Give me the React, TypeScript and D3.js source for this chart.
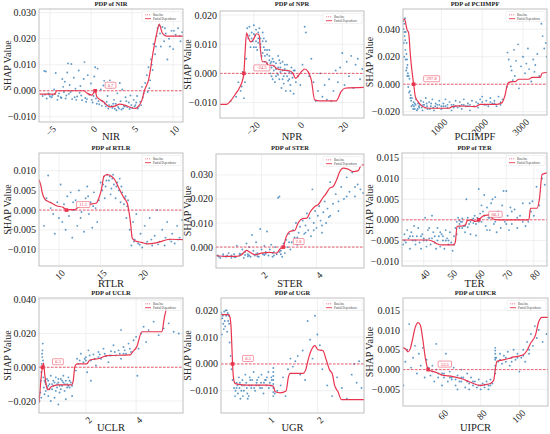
import React from 'react';
import * as d3 from 'd3';

type Pt = [number, number];

// SHAP values below are in thousandths (10 => 0.010)
const nirLine: Pt[] = [
  [-6.3, -1.3], [-4.4, -1.3], [-4.2, 0], [-0.9, 0], [-0.45, -1], [0.1, -1.7], [0.5, 0], [0.7, -2.3],
  [1.5, -4.2], [2.3, -6.2], [2.9, -5.9], [3.5, -5.1], [4.1, -5.5], [4.8, -6.4], [5.4, -6.8], [5.8, -5.9],
  [6.2, -3.6], [6.5, 0], [7.0, 4.1], [7.6, 15.6], [8.0, 22], [8.3, 25.6], [8.7, 22], [9.2, 21], [11.2, 21],
];
const nirPts: Pt[] = [
  [-5.9, -2], [-5.7, 7.6], [-5.5, 7.4], [-5.4, -3], [-5.1, -1.5], [-4.8, -2.5], [-4.5, 0.5], [-4.3, 6.8],
  [-4.1, -3.5], [-3.9, -1], [-3.6, -2.8], [-3.4, 1.5], [-3.2, 3.5], [-3.0, -1.8], [-2.8, 10.5], [-2.6, 2.2],
  [-2.4, 10.3], [-2.3, -3.2], [-2.1, 5], [-1.9, 0.8], [-1.7, -2.2], [-1.5, 7.8], [-1.3, 1.8], [-1.1, -3.6],
  [-0.9, 4.5], [-0.8, 11], [-0.6, -4.2], [-0.4, 6], [-0.2, -1.5], [0, 2.8], [0.2, -4.5], [0.4, 5.5],
  [0.6, -3], [0.8, 8.5], [1.0, -5.2], [1.2, 0.5], [1.4, -4], [1.6, 3.8], [1.8, -6], [2.0, -2], [2.2, -5.5],
  [2.4, 1.2], [2.6, -6.5], [2.8, -3.5], [3.0, -5], [3.2, -1], [3.4, -6.8], [3.6, -4], [3.8, 0.5], [4.0, -5.8],
  [4.2, -2.5], [4.4, -6.2], [4.6, -4.5], [4.8, -1.8], [5.0, -6.5], [5.2, -3.5], [5.4, -5.5], [5.6, -2],
  [5.8, -6], [6.0, -4.2], [6.2, 1.5], [6.4, -1], [6.6, 3], [6.8, 6], [6.9, -0.5], [7.0, 9], [7.2, 4],
  [7.3, 12], [7.5, 8], [7.6, 18], [7.8, 14], [8.0, 21], [8.1, 24], [8.3, 25], [8.5, 17], [8.7, 24.5],
  [8.9, 19], [9.1, 22], [9.3, 12], [9.5, 20], [9.8, 23], [10.0, 16], [10.3, 21.5], [10.6, 24], [10.9, 19],
  [11.1, 22.5], [-5.2, -1], [-4.7, -1.8], [-4, -2], [-3.3, -0.5], [-2.7, -1.2], [-2, -2.5], [-1.4, -0.8],
  [-0.7, -2.8], [0.1, -3.5], [0.9, -4], [1.7, -5], [2.5, -5.8], [3.3, -6.2], [4.1, -6], [4.9, -5.5],
  [5.7, -6.8], [3.7, -7.2], [2.9, -6.9], [-5.6, -1.5], [-5, -2.2], [-4.4, -1.2], [-3.7, -2.5], [-3.1, -3],
  [-2.5, -0.5], [-1.8, -3.5], [-1.2, -1.8], [-0.5, -3.2], [0.3, -2], [0.7, -5], [1.3, -5.8], [1.9, -4.2],
  [2.1, -6.8], [2.7, -5], [3.1, -7.5], [3.9, -6.8], [4.3, -4], [4.7, -7], [5.3, -6], [5.5, -4.5],
  [6.1, -5.5], [6.3, -2.5], [7.1, 1], [7.4, 10], [7.9, 17], [8.4, 22], [9.0, 24], [9.6, 17], [10.1, 23],
  [10.8, 21], [-3.5, 4.5], [-2.9, 7], [0.5, 9], [1.5, 2], [2.3, 4], [3.5, 3],
];

const nprLine: Pt[] = [
  [-35.3, -10.6], [-32.3, -10.6], [-30.8, -9.7], [-28.6, -7.4], [-26.6, -5.1], [-25.1, -2.3], [-24.5, 0],
  [-23.9, 8], [-23.3, 13.9], [-22.6, 12.5], [-21.4, 10.8], [-20, 11.9], [-18.8, 13.6], [-17.6, 13.1],
  [-17, 8], [-16.1, 4], [-14.6, 4], [-13.5, 2.8], [-11.3, 2.8], [-9.8, 1.7], [-6.8, 1.1], [-3.8, 0.9],
  [-2.3, 0], [-1.1, -1.7], [0, -0.9], [1.5, 0.6], [3, 1.5], [4.5, 0.6], [6, -2.3], [7.5, -9.1], [9.8, -9.4],
  [17.3, -9.4], [19.5, -6.2], [21.1, -5.1], [29.8, -4.8],
];
const nprPts: Pt[] = [
  [-30.5, -9.5], [-28, -8], [-27, -3], [-26, -6], [-25.5, -4.5], [-25, 0.5], [-24.5, -8.5], [-24, -3],
  [-23.5, 5], [-23, 15.5], [-22.5, 12], [-22, 16], [-21.5, 9], [-21, 14], [-20.5, 11], [-20, 16.5],
  [-19.5, 13], [-19, 15], [-18.5, 8], [-18, 12], [-17.5, 15.5], [-17, 10], [-16.5, 6], [-16, 14],
  [-15.5, 9], [-15, 4], [-14.5, 11], [-14, 6.5], [-13.5, 2], [-13, 8], [-12.5, 3.5], [-12, -1], [-11.5, 5],
  [-11, 1], [-10.5, -3], [-10, 3.5], [-9.5, 0], [-9, 6], [-8.5, -2], [-8, 2], [-7.5, -5], [-7, 4],
  [-6.5, -1], [-6, 1.5], [-5.5, -6], [-5, 3], [-4.5, -2.5], [-4, 0.5], [-3.5, -4], [-3, 2], [-2.5, -1.5],
  [-2, -7], [-1.5, 1], [-1, -3], [-20, 9], [-18, 10.5], [-16, 7], [-14, 3.5], [-12, 2], [-10, 1.5],
  [-8, 0.5], [-6, 0], [-13, 4.5], [-11, 2.5], [-9, -0.5], [-7, 1], [-5, -1], [-15, 6], [-17, 12], [-19, 11],
  [0, -1], [1, -4], [2, 3], [3, 16], [3.5, 14], [5, -1], [6, 5], [7, -3], [8, -9.5], [9, -6], [10, 0],
  [11, -8], [12, -4], [13, -9], [14, -2], [15, -9.5], [16, -6], [17, 1], [18, -3], [19, 2], [20, 7],
  [21, -4], [22, 4], [23, -1], [24, 6], [25, -5], [26, 3], [27, 5], [28, -2], [29, 1.5],
  [-22, 13], [-21, 12], [-20, 13.5], [-19, 9], [-18, 14], [-17, 9], [-16, 11], [-15, 8], [-14, 8],
  [-13, 6], [-12, 4], [-11, 4], [-10, -1], [-9, 2], [-8, 3.5], [-7, -2], [-6, 3], [-5, 1], [-4, -2],
  [-3, 0], [-2, 1], [-12.5, 0], [-8.5, 4.5], [-6.5, -3.5], [-3.5, -6], [-15.5, 12], [-11.5, -2],
];

const pciLine: Pt[] = [
  [61, 47.4], [102, 47], [159, 39.7], [200, 37.2], [241, 21.4], [282, 9.2], [322, 0], [363, -9],
  [428, -12.7], [526, -15.8], [690, -17.5], [1180, -17.5], [1262, -16.3], [1425, -15.8], [1833, -16.3],
  [1955, -14.6], [2363, -14.6], [2486, -13.4], [2550, -9], [2632, 0.7], [2730, 1.9], [2812, 1.9],
  [2894, 3.6], [3139, 3.6], [3220, 4.9], [3424, 4.9], [3465, 8], [3587, 8.5],
];
const pciPts: Pt[] = [
  [70, 46], [90, 44], [110, 48], [80, 30], [100, 35], [120, 25], [90, 20], [130, 38], [150, 30], [160, 18],
  [140, 10], [170, 14], [180, 8], [200, 6], [190, -2], [220, 4], [230, -5], [250, -8], [260, -12],
  [280, -10], [300, -15], [320, -13], [350, -18], [380, -11], [400, -19], [430, -14], [460, -17],
  [500, -12], [540, -19], [580, -15], [620, -10], [660, -18], [700, -13], [740, -16], [780, -11],
  [820, -19], [860, -14], [900, -17], [950, -12], [1000, -18], [1050, -14], [1100, -11], [1150, -17],
  [1200, -13], [1250, -19], [1300, -15], [1350, -12], [1400, -17], [1450, -13], [1500, -18], [1550, -11],
  [1600, -16], [1650, -14], [1700, -19], [1750, -12], [1800, -16], [1850, -13], [1900, -17], [1950, -11],
  [2000, -9], [2050, -15], [2100, -12], [2150, -16], [2200, -10], [2250, -14], [2300, -12], [2350, -16],
  [2400, -9], [2450, -13], [2500, -11], [350, -14], [450, -16], [550, -15], [650, -16], [750, -14],
  [850, -16], [950, -15], [1050, -16], [1150, -15], [1250, -15], [1350, -16], [1450, -16], [1550, -15],
  [1650, -16], [600, -17], [800, -17], [1000, -16], [2600, -2], [2620, 23], [2650, 18], [2700, 13],
  [2720, 10], [2750, 3], [2780, 25], [2800, 6], [2830, 17], [2880, 29], [2900, -3], [2950, 13],
  [3000, 20], [3050, 8], [3080, 15], [3120, 26], [3150, 11], [3200, 2], [3250, 18], [3280, 9], [3300, 14],
  [3350, 22], [3400, 6], [3450, 44], [3480, 35], [3520, 26], [3560, 30], [3580, 20],
  [75, 40], [95, 38], [115, 32], [125, 18], [145, 22], [155, 12], [165, 6], [210, -6], [240, -10],
  [270, -16], [310, -18], [330, -16], [370, -15], [420, -18], [480, -15], [520, -17], [560, -13],
  [640, -14], [720, -18], [900, -15], [1100, -16], [1300, -17], [1500, -15], [1700, -15], [1900, -14],
  [2100, -15], [2300, -14], [2450, -15], [2000, -13], [2200, -13],
];

const rtlrLine: Pt[] = [
  [7.6, 7.7], [7.8, 6.4], [8.0, 4.3], [8.3, 2.8], [8.7, 2.2], [9.1, 1.8], [9.7, 1.1], [10.5, 0.7],
  [10.9, 0], [11.3, 0.1], [11.9, 0.1], [12.3, 0.7], [12.9, 1.1], [13.7, 1.5], [14.5, 1.8], [14.8, 3.1],
  [15.1, 5.2], [15.4, 8.6], [15.8, 9], [16.3, 8.6], [16.7, 7.7], [17.1, 6], [17.5, 4.3], [17.9, 2.8],
  [18.2, 1.8], [18.4, -0.3], [18.6, -3.3], [18.8, -7.1], [19.1, -7.8], [19.9, -8.2], [20.7, -8.6],
  [21.5, -8.4], [22.5, -7.8], [23.3, -7.4], [24.9, -7.5],
];
const rtlrPts: Pt[] = [
  [8.2, -4], [8.5, 3], [8.7, 8.8], [9, 0.5], [9.3, -1], [9.5, -6], [9.8, 2], [10, -2], [10.2, 6.5],
  [10.4, -3], [10.6, 1.5], [10.8, -5], [11, 3.5], [11.2, -1.5], [11.4, 4.5], [11.6, -7], [11.8, 0],
  [12, 2.5], [12.2, -4], [12.4, 5], [12.6, -2], [12.8, 1], [13, -5.5], [13.2, 3], [13.4, 6], [13.6, -1],
  [13.8, 2], [14, -4.5], [14.2, 4.5], [14.4, 0.5], [14.6, -3], [14.8, 2.5], [15, 7], [15.2, 5], [15.4, 8.5],
  [15.6, 6], [15.8, 9], [16, 7.5], [16.2, 4], [16.4, 8], [16.6, 6.5], [16.8, 3], [17, 7], [17.2, 5],
  [17.4, 2], [17.6, 4.5], [17.8, 1.5], [18, 3.5], [18.2, 1], [15.5, 3], [16.5, 9], [17.3, 8], [18.1, -2],
  [18.5, -5], [18.7, -9], [18.9, -3], [19.1, -7.5], [19.3, -1], [19.5, -8.5], [19.8, -6], [20, -9.5],
  [20.3, -4], [20.6, -8], [20.9, -2], [21.2, -9], [21.5, -6.5], [21.8, 0], [22.1, -8], [22.4, -5],
  [22.7, -9], [23, -3], [23.3, -7.5], [23.6, -6], [23.9, -8.5], [24.2, -4], [24.5, -7], [24.8, -2.5],
  [15.3, 6.5], [15.7, 7.5], [16.1, 8.5], [16.9, 6], [17.5, 6], [17.9, 3], [18.3, 2.5], [16.3, 5.5],
  [19, -8], [19.7, -8.8], [20.5, -8.5], [21.1, -7.5], [21.9, -8.7], [22.8, -7], [23.5, -8], [24.3, -7.5],
  [11.7, 2], [12.7, -0.5], [13.5, 3.5], [14.1, 1],
];

const sterLine: Pt[] = [
  [0.34, -3.6], [0.73, -3.9], [1.09, -3.9], [1.27, -3.2], [1.45, -1.4], [1.58, -2.2], [1.76, -3.2],
  [2, -2.5], [2.3, -2.2], [2.55, -2.5], [2.67, -0.8], [2.79, 0], [2.88, 3.7], [3.03, 6.5], [3.21, 6.9],
  [3.33, 10], [3.49, 11.8], [3.64, 12], [3.78, 14.8], [3.94, 16.9], [4.06, 17.6], [4.22, 20.3],
  [4.36, 22.4], [4.48, 24.5], [4.61, 25.2], [4.73, 27.9], [4.85, 31.4], [4.97, 32.8], [5.15, 32.4],
  [5.33, 31.4], [5.52, 31.8], [5.64, 34.2], [5.73, 34.2],
];
const sterPts: Pt[] = [
  [0.4, -3.5], [0.5, -4.5], [0.6, -3], [0.7, -4], [0.8, -2.5], [0.9, -4.5], [1, -3], [1.1, 0.5],
  [1.2, -3.5], [1.3, -1], [1.35, -4.5], [1.4, -2], [1.45, 1.5], [1.5, -3], [1.55, 0], [1.6, -4], [1.65, 5],
  [1.7, -1.5], [1.75, -3.5], [1.8, 2], [1.85, -2.5], [1.9, -4], [1.95, 7.5], [2, -1], [2.05, -3],
  [2.1, 0.5], [2.15, -2], [2.2, 6.5], [2.25, -3.5], [2.3, -1], [2.35, 1], [2.4, -4], [2.45, -2], [2.5, 0],
  [2.55, -3], [2.6, 20.5], [2.65, 21], [2.7, -1.5], [2.75, -4], [2.8, 1.5], [2.85, -2.5], [2.9, 3],
  [2.95, 0], [3, 5.5], [3.05, -1], [3.1, 2], [3.15, 7], [3.2, 4], [3.25, 10], [3.3, 1], [3.35, 6],
  [3.4, 8.5], [3.45, 3], [3.5, 11], [3.55, 5.5], [3.6, 9], [3.65, 14], [3.7, 7], [3.75, 12], [3.8, 4.5],
  [3.85, 24], [3.9, 10], [3.95, 15], [4, 8], [4.05, 13], [4.1, 17], [4.15, 11], [4.2, 6], [4.25, 14.5],
  [4.3, 19], [4.35, 10], [4.4, 16], [4.45, 12.5], [4.5, 27], [4.6, 18], [4.7, 22], [4.8, 15], [4.9, 25],
  [5, 20], [5.1, 29], [5.2, 23], [5.3, 31], [5.4, 21], [5.5, 26], [5.6, 24], [5.7, 22.5], [0.6, -3.8],
  [0.9, -3.5], [1.2, -2.8], [1.5, -3.8], [1.8, -3], [2.1, -3.3], [2.4, -2.5], [2.7, -3], [1, -4], [1.4, -3.3],
  [0.45, -4], [0.75, -3.5], [1.05, -4.2], [1.25, -3], [1.55, -3.5], [1.85, -3.8], [2.15, -2.8],
  [2.45, -3.5], [2.65, -2], [3.0, 2], [3.3, 4], [3.6, 6], [3.9, 7], [4.2, 9], [4.5, 13], [4.8, 19],
  [5.1, 21], [5.4, 25],
];

const terLine: Pt[] = [
  [32.1, -4.9], [41.8, -4.9], [43.6, -5.3], [44.8, -5.8], [46.7, -6.1], [50.9, -6.1], [51.5, -5.3],
  [52.1, -1.6], [53.9, -1.5], [55.2, -1.2], [55.8, -0.2], [57.3, 0], [58.8, -0.4], [60, 0], [61, 0.6],
  [61.8, 1], [64.2, 1.2], [65.1, 0.2], [67.3, 0], [78.2, 0], [78.8, 2.8], [81.2, 2.8], [82.1, 5.3],
  [83, 11], [84.8, 11.4],
];
const terPts: Pt[] = [
  [32.5, -6], [33, -3.5], [33.5, -5.5], [34, -2.5], [34.5, -4.5], [35, -7], [35.5, -3], [36, -5],
  [36.5, -1.5], [37, -6], [37.5, -4], [38, -2], [38.5, -5.5], [39, -7], [39.5, -3.5], [40, -5], [40.5, 0.5],
  [41, -6.5], [41.5, -2.5], [42, -4.5], [42.5, -6], [43, 1], [43.5, -3], [44, -5.5], [44.5, -7], [45, -2],
  [45.5, -4], [46, -6.5], [46.5, -3.5], [47, -5], [47.5, -7], [48, -2.5], [48.5, -4.5], [49, -6], [49.5, -3],
  [50, -5.5], [50.5, -7.5], [51, -4], [51.5, -2], [52, -0.5], [52.5, 0.5], [53, -2], [53.5, -0.5],
  [54, 0.3], [54.5, -1.5], [55, -3], [55.5, 5], [56, 0.5], [56.5, -1], [57, -3.5], [57.5, 0], [58, -0.8],
  [58.5, 1], [59, -3.8], [59.5, 0.5], [60, 7.5], [60.5, 1.5], [61, -0.5], [61.5, 2], [62, 6], [62.5, -1.5],
  [63, 3], [63.5, 0.5], [64, -2.5], [64.5, 4], [65, 1.5], [65.5, -1], [66, 5.5], [66.5, -3], [67, 2],
  [67.5, 0.8], [68, -2], [68.5, 3.5], [69, 7], [69.5, -0.5], [70, 7], [70.5, 1], [71, -2.5], [71.5, 3],
  [72, -1], [73, 2.5], [74, -2], [75, 1], [76, 4], [77, -1.5], [78, -0.5], [78.5, 4], [79, 2], [79.5, 4.5],
  [80, 1], [81, 8], [82, 3.5], [83, 10], [84, 8.5], [40, -4.5], [44, -4], [48, -5], [36, -4], [53, -1],
  [55, -1.5], [57, -0.5], [59, -1], [54, -0.5], [52, -3.5], [33, -5], [35, -4], [37, -5], [39, -4],
  [41, -5], [43, -4.5], [45, -5], [47, -4], [49, -5], [51, -6], [46, -3], [42, -2], [53, -0.2], [54, -2],
  [56, -1.8], [58, 0.3], [60, -0.5], [62, 1], [64, 0.5], [66, -0.5], [68, 1], [70, -1], [72, 2],
  [74, 0.5], [76, -0.5], [61, 3.5], [65, 5], [63, -2.5],
];

const uclrLine: Pt[] = [
  [0.13, -21.2], [0.19, -10.4], [0.24, -2.5], [0.27, 0], [0.31, 2.4], [0.36, -4.5], [0.43, -11.4],
  [0.49, -13.3], [0.63, -11.4], [0.89, -10.4], [1.43, -10.4], [1.49, -8.4], [1.56, 0.4], [1.65, 2],
  [2.03, 2], [2.16, 4.3], [2.56, 5.3], [2.83, 6.9], [3.76, 7.3], [3.87, 9.2], [4.03, 12.2], [4.23, 21],
  [5.03, 21], [5.12, 28.8], [5.23, 34.7], [5.3, 34.7],
];
const uclrPts: Pt[] = [
  [0.15, -20], [0.18, -15], [0.2, -8], [0.22, -3], [0.24, 2], [0.26, 6], [0.27, 10], [0.28, 14], [0.29, 4],
  [0.3, -6], [0.32, -12], [0.35, -16], [0.38, -9], [0.4, -14], [0.45, -7], [0.5, -17], [0.55, -10],
  [0.6, -5], [0.65, -13], [0.7, -8], [0.75, -18], [0.8, -6], [0.85, -12], [0.9, -9], [0.95, -15], [1, -7],
  [1.05, -11], [1.1, -5], [1.15, -14], [1.2, -8], [1.25, -10], [1.3, -6], [1.35, -12], [1.4, -9],
  [1.45, -17], [0.6, -20], [0.9, -22], [1.2, -19], [1.6, -2], [1.65, 5], [1.7, 2], [1.8, 8], [1.9, 3],
  [2, 6], [2.1, 10], [2.2, 4], [2.3, 7.5], [2.4, 1], [2.5, 9], [2.6, 5], [2.7, 11], [2.8, 6.5], [2.9, 3],
  [3, 9.5], [3.1, 13], [3.2, 7], [3.3, 10], [3.4, 5], [3.5, 12], [3.6, 8], [3.7, 14], [3.8, 9], [3.9, 16],
  [4, 18], [4.05, -5], [4.1, 11], [4.2, 20], [4.3, 24], [4.4, 15], [4.5, 22], [4.7, 27], [4.9, 19],
  [5.1, 23], [5.3, 26], [5.5, 21], [5.7, 20], [2.05, -3], [2.2, -8], [3.4, 22], [0.4, -10], [0.5, -8],
  [0.7, -11], [0.9, -7], [1.1, -9], [1.3, -11], [2, 4], [2.5, 6], [3, 7], [3.5, 8], [0.35, -8],
  [0.45, -12], [0.55, -13], [0.65, -10], [0.75, -9], [0.85, -10], [0.95, -11], [1.05, -8], [1.15, -10],
  [1.25, -12], [1.35, -8], [1.45, -11], [0.5, -11], [0.8, -14], [1.0, -13], [1.75, 4], [1.95, 5],
  [2.15, 7], [2.35, 5], [2.55, 7.5], [2.75, 8], [2.95, 7], [3.15, 9], [3.35, 8], [3.55, 10], [3.75, 11],
  [0.22, -18], [0.25, 8],
];

const ugrLine: Pt[] = [
  [0.03, 18.4], [0.19, 18.4], [0.22, 17.1], [0.24, 13.4], [0.26, 4.6], [0.27, 0], [0.29, -5.4],
  [0.32, -7.3], [0.39, -7.6], [0.56, -7.9], [0.97, -7.9], [1.1, -8.3], [1.14, -10.4], [1.24, -10.8],
  [1.36, -10.1], [1.41, -4.8], [1.44, -3.5], [1.71, -3.5], [1.76, -2.3], [1.81, 1.5], [1.88, 5.3],
  [1.95, 6.8], [2.01, 5.3], [2.11, 5], [2.18, 1.5], [2.25, -2.3], [2.3, -3.5], [2.35, -7.9], [2.42, -10.4],
  [2.49, -13.3], [2.95, -13.3],
];
const ugrPts: Pt[] = [
  [0.04, 19], [0.06, 17], [0.08, 15], [0.1, 19.5], [0.12, 14], [0.14, 18], [0.16, 12], [0.18, 16],
  [0.05, 11], [0.09, 13], [0.13, 20], [0.17, 19], [0.2, 15], [0.21, 8], [0.23, 3], [0.25, -2], [0.27, -6],
  [0.3, -9], [0.32, -12], [0.35, -7], [0.38, -11], [0.4, -5], [0.43, -13], [0.46, -8], [0.5, -10],
  [0.53, -4], [0.56, -9], [0.6, -12], [0.63, -6], [0.66, -8], [0.7, -3], [0.73, -10], [0.76, -7], [0.8, -5],
  [0.83, -9], [0.86, -4], [0.9, -11], [0.93, -6], [0.96, -8], [1, -3], [1.03, -7], [1.06, -5], [1.1, -12],
  [1.1, -9], [1.1, -6], [1.1, -3], [1.1, -1.5], [1.13, -11], [1.18, -10], [1.25, -8], [1.3, -5],
  [1.35, -12], [1.4, -2], [1.45, 2], [1.5, -1], [1.55, 1], [1.6, 3], [1.65, -4], [1.7, 5], [1.75, -6],
  [1.8, 16], [1.85, 9], [1.9, 2], [1.95, 18], [2, 11], [2.05, 7], [2.1, -2], [2.2, -8], [2.3, -12],
  [2.4, -5], [2.5, -9], [2.6, -13], [2.7, -4], [2.75, 0], [2.8, -7], [2.85, 1], [2.9, -9], [0.35, -9],
  [0.45, -10], [0.55, -7], [0.65, -9], [0.75, -8], [0.85, -7], [0.95, -6], [1.05, -8], [0.42, -7], [0.62, -5],
  [0.07, 18], [0.11, 16], [0.15, 20], [0.19, 18], [0.03, 17], [0.33, -10], [0.37, -8], [0.41, -9],
  [0.47, -6], [0.51, -8], [0.57, -11], [0.61, -8], [0.67, -6], [0.71, -9], [0.77, -6], [0.81, -8],
  [0.87, -9], [0.91, -7], [0.97, -5], [1.01, -9], [1.07, -6], [1.1, -10.5], [1.1, -7.5], [1.1, -4.5],
  [0.48, -12], [0.58, -13],
];

const uipcrLine: Pt[] = [
  [39.8, 5.5], [41, 5.3], [42.4, 4.5], [43.6, 5.3], [44.8, 7.8], [46.2, 10.8], [47.6, 11.9], [48.8, 11.2],
  [50, 7.8], [51.4, 2.8], [52.8, 0], [54.8, -0.4], [57.4, -0.8], [60, -1.4], [63.4, -1.6], [66.9, -1.9],
  [70.3, -2.3], [73.8, -3], [77.2, -3.7], [79.8, -4], [82.4, -3.8], [85, -3.5], [86.7, -2.7], [87.6, 0.3],
  [88.4, 2.1], [91, 2.4], [94.5, 2.8], [97.1, 3.2], [99.7, 3.4], [102.2, 3.8], [104, 4.9], [105.7, 6.6],
  [108.3, 8.7], [110, 12.1], [111.7, 13.2], [114.8, 13.2],
];
const uipcrPts: Pt[] = [
  [40, -4], [41, 2], [42, 5], [43, 11.5], [44, 0.5], [45, 3], [46, 6], [47, -1], [48, 4], [49, 1],
  [50, 5.5], [51, -2], [52, 2.5], [53, 0.5], [54, -1.5], [55, 1], [56, -3], [57, 0], [58, -2], [59, 2],
  [60, -4], [61, -1], [62, 1], [63, -3], [64, -0.5], [65, -2.5], [66, 0.5], [67, -4], [68, -1.5], [69, -3],
  [70, 0], [71, -2], [72, -4.5], [73, -1], [74, -3.5], [75, -2], [76, -4], [77, -3], [78, -4.5], [79, -2.5],
  [80, -4], [81, -3.5], [82, -4.5], [83, -3], [84, -4], [85, -2.5], [86, -3.5], [87.5, -1], [87.5, 1],
  [87.5, 2.5], [87.5, 4], [87.5, 5.5], [88, 3], [89, 2], [90, 4], [91, 1.5], [92, 3.5], [93, 2], [94, 4.5],
  [95, 1], [96, 3], [97, 5], [98, 2.5], [99, 4], [100, -0.5], [101, 3], [102, 5], [103, 2], [104, 7],
  [105, 4], [106, 9], [107, 6], [108, 11], [109, 8], [110, 10], [112, 7], [114, 9], [57, 6.5], [62, 4],
  [68, -5], [74, -5], [80, -5], [84, -5], [65, -2], [70, -3], [60, -1], [55, -0.5], [58, -1], [61, -2],
  [64, -2], [67, -2.5], [70, -2], [73, -3], [76, -3], [79, -4], [82, -3.8], [85, -4], [87.5, 0],
  [87.5, 3], [87.5, 4.8], [90, 2.5], [93, 3], [96, 2], [99, 3], [102, 3.5], [105, 5],
];

const names = ['NIR', 'NPR', 'PCIIMPF', 'RTLR', 'STER', 'TER', 'UCLR', 'UGR', 'UIPCR'];
const lines = [nirLine, nprLine, pciLine, rtlrLine, sterLine, terLine, uclrLine, ugrLine, uipcrLine];
const points = [nirPts, nprPts, pciPts, rtlrPts, sterPts, terPts, uclrPts, ugrPts, uipcrPts];
const cutX = [0.5, -24.5, 322, 10.9, 2.79, 60, 0.27, 0.27, 52.8];
const cutLabels = ['0.7', '-24.3', '297.8', '11.1', '2.8', '60.1', '0.3', '0.3', '53.5'];
const xTicks = [[-5, 0, 5, 10], [-20, 0, 20], [1000, 2000, 3000], [10, 15, 20], [2, 4],
  [40, 50, 60, 70, 80], [2, 4], [1, 2], [60, 80, 100]];
const yTicks = [[-10, 0, 10, 20, 30], [-10, 0, 10, 20], [-20, 0, 20, 40], [-10, -5, 0, 5, 10],
  [0, 10, 20, 30], [-10, -5, 0, 5, 10, 15], [-20, 0, 20, 40], [-10, 0, 10, 20], [-5, 0, 5, 10, 15]];
const xDomains: [number, number][] = [[-6.34, 11.2], [-35.3, 29.8], [61, 3587], [7.6, 24.9],
  [0.34, 5.73], [32.1, 84.8], [0.13, 5.87], [0.034, 2.95], [39.8, 114.8]];
const yDomains: [number, number][] = [[-12, 31.4], [-15.3, 21.4], [-22.4, 54.7], [-14.2, 14.5],
  [-8.7, 38.7], [-11.2, 16.2], [-27.1, 41], [-18.3, 24.6], [-9.2, 18.1]];

// layout (px)
const frames = [
  { l: 39, r: 183, t: 9, b: 122 }, { l: 220, r: 364, t: 11, b: 118 }, { l: 403, r: 547, t: 9, b: 115 },
  { l: 39, r: 183, t: 153, b: 266 }, { l: 216, r: 364, t: 154, b: 268 }, { l: 402, r: 547, t: 153, b: 266 },
  { l: 39, r: 183, t: 298, b: 413 }, { l: 221, r: 364, t: 298, b: 413 }, { l: 403, r: 548, t: 298, b: 406 },
];
const titleY = [6, 150, 295];
const xLabelY = [140, 287, 431];
const yLabelX = [11, 191, 373];

const RED = '#e8344e';
const BLUE = '#2a77b4';
const FONT = "'Liberation Serif', 'DejaVu Serif', serif";
const fmt = (v: number) => d3.format('.3f')(v / 1000);

interface PanelProps {
  i: number;
}

const Panel = ({ i }: PanelProps) => {
  const f = frames[i];
  const row = Math.floor(i / 3);
  const col = i % 3;
  const x = d3.scaleLinear().domain(xDomains[i]).range([f.l, f.r]);
  const y = d3.scaleLinear().domain(yDomains[i]).range([f.b, f.t]);
  const line = d3
    .line<Pt>()
    .x((d) => x(d[0]))
    .y((d) => y(d[1]))
    .curve(d3.curveMonotoneX);
  const mx = x(cutX[i]);
  const my = y(0);
  const lab = cutLabels[i];
  const labW = lab.length * 2.6 + 3;
  const clip = `clip-${i}`;
  return (
    <g>
      <defs>
        <clipPath id={clip}>
          <rect x={f.l} y={f.t} width={f.r - f.l} height={f.b - f.t} />
        </clipPath>
      </defs>
      {xTicks[i].map((t) => (
        <line key={`gx${t}`} x1={x(t)} x2={x(t)} y1={f.t} y2={f.b} stroke="#e6e6e6" strokeWidth={0.6} />
      ))}
      {yTicks[i].map((t) => (
        <line key={`gy${t}`} x1={f.l} x2={f.r} y1={y(t)} y2={y(t)} stroke="#e6e6e6" strokeWidth={0.6} />
      ))}
      <g clipPath={`url(#${clip})`}>
        {points[i].map((d, j) => (
          <circle key={j} cx={x(d[0])} cy={y(d[1])} r={0.95} fill={BLUE} fillOpacity={0.75} />
        ))}
        <line x1={f.l} x2={f.r} y1={my} y2={my} stroke={RED} strokeWidth={0.8} strokeDasharray="2.5,1.5" />
        <path d={line(lines[i]) || ''} fill="none" stroke={RED} strokeWidth={1.2} />
      </g>
      <rect x={mx - 1.8} y={my - 1.8} width={3.6} height={3.6} fill={RED} />
      <rect x={mx + 10} y={my - 8.5} width={labW} height={6} fill="#fff" stroke={RED} strokeWidth={0.5} rx={0.8} />
      <text x={mx + 10 + labW / 2} y={my - 3.9} fontSize={4.5} fill={RED} textAnchor="middle" fontFamily={FONT}>
        {lab}
      </text>
      <rect x={f.l} y={f.t} width={f.r - f.l} height={f.b - f.t} fill="none" stroke="#b8b8b8" strokeWidth={0.9} />
      {/* legend */}
      <g transform={`translate(${f.r - 41}, ${f.t + 2.5})`}>
        <rect width={39} height={10} fill="#fff" fillOpacity={0.85} stroke="#dddddd" strokeWidth={0.4} rx={0.8} />
        <line x1={3} x2={9} y1={3.3} y2={3.3} stroke={RED} strokeWidth={0.6} strokeDasharray="1.2,0.8" />
        <line x1={3} x2={9} y1={7.2} y2={7.2} stroke={RED} strokeWidth={0.9} />
        <text x={11} y={4.4} fontSize={3} fill="#444" fontFamily={FONT}>Baseline</text>
        <text x={11} y={8.3} fontSize={3} fill="#444" fontFamily={FONT}>Partial Dependence</text>
      </g>
      {yTicks[i].map((t) => (
        <text key={`ty${t}`} x={f.l - 3} y={y(t)} dy="0.35em" fontSize={10} textAnchor="end" fill="#222" fontFamily={FONT}>
          {fmt(t)}
        </text>
      ))}
      {xTicks[i].map((t) => (
        <text
          key={`tx${t}`}
          transform={`translate(${x(t) + 2},${f.b + 3}) rotate(-45)`}
          dy="0.7em"
          fontSize={9.5}
          textAnchor="end"
          fill="#222"
          fontFamily={FONT}
        >
          {d3.format('d')(t)}
        </text>
      ))}
      <text x={(f.l + f.r) / 2} y={titleY[row]} fontSize={6.5} fontWeight="bold" textAnchor="middle" fill="#222" fontFamily={FONT}>
        {`PDP of ${names[i]}`}
      </text>
      <text x={(f.l + f.r) / 2} y={xLabelY[row]} fontSize={10.5} textAnchor="middle" fill="#222" fontFamily={FONT}>
        {names[i]}
      </text>
      <text
        transform={`translate(${yLabelX[col]},${(f.t + f.b) / 2}) rotate(-90)`}
        fontSize={10}
        textAnchor="middle"
        fill="#222"
        fontFamily={FONT}
      >
        SHAP Value
      </text>
    </g>
  );
};

const App = () => (
  <svg
    width={550}
    height={434}
    viewBox="0 0 550 434"
    style={{ position: 'absolute', left: 0, top: 0, background: '#fff' }}
  >
    {names.map((n, i) => (
      <Panel key={n} i={i} />
    ))}
  </svg>
);

export default App;
